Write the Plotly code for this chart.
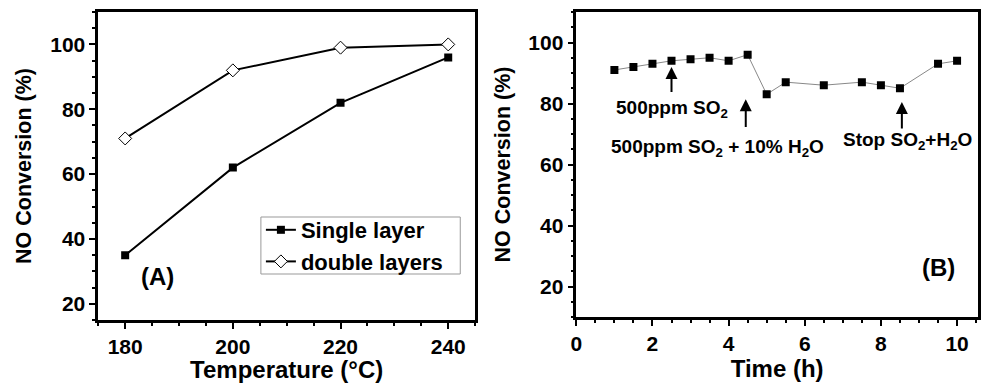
import plotly.graph_objects as go

# Panel A data
temperature = [180, 200, 220, 240]
single_layer = [35, 62, 82, 96]
double_layers = [71, 92, 99, 100]

# Panel B data
time_h = [1, 1.5, 2, 2.5, 3, 3.5, 4, 4.5, 5, 5.5, 6.5, 7.5, 8, 8.5, 9.5, 10]
conv_b = [91, 92, 93, 94, 94.5, 95, 94, 96, 83, 87, 86, 87, 86, 85, 93, 94]

FONT = "Liberation Sans, Arial, sans-serif"
W, H = 981, 383

fig = go.Figure()
fig.add_trace(go.Scatter(x=temperature, y=single_layer, name="Single layer",
                         mode="lines+markers", xaxis="x", yaxis="y",
                         line=dict(color="black", width=2),
                         marker=dict(symbol="square", size=8, color="black")))
fig.add_trace(go.Scatter(x=temperature, y=double_layers, name="double layers",
                         mode="lines+markers", xaxis="x", yaxis="y",
                         line=dict(color="black", width=2),
                         marker=dict(symbol="diamond", size=10, color="white",
                                     line=dict(color="black", width=1))))
fig.add_trace(go.Scatter(x=time_h, y=conv_b, mode="lines+markers", showlegend=False,
                         xaxis="x2", yaxis="y2",
                         line=dict(color="#888888", width=1),
                         marker=dict(symbol="square", size=8, color="black")))

tickfont = dict(family=FONT, size=21, color="black", weight="bold")
xtitlefont = dict(family=FONT, size=24, color="black", weight="bold")
ytitlefont = dict(family=FONT, size=21.5, color="black", weight="bold")
axcommon = dict(showline=True, linecolor="black", linewidth=2.5, mirror=True,
                ticks="outside", ticklen=6, tickwidth=2, tickcolor="black",
                showgrid=False, zeroline=False, tickfont=tickfont,
                minor=dict(ticks="outside", ticklen=3, tickwidth=2, tickcolor="black"))

fig.update_layout(
    width=W, height=H, margin=dict(l=0, r=0, t=0, b=0),
    plot_bgcolor="white", paper_bgcolor="white",
    xaxis=dict(domain=[93 / W, 473 / W], range=[175, 245], tickvals=[180, 200, 220, 240],
               anchor="y", title=dict(text="Temperature (°C)", font=xtitlefont, standoff=3),
               **axcommon),
    yaxis=dict(domain=[1 - 320 / H, 1 - 12 / H], range=[15, 110], tickvals=[20, 40, 60, 80, 100],
               anchor="x", title=dict(text="NO Conversion (%)", font=ytitlefont, standoff=13),
               **axcommon),
    xaxis2=dict(domain=[575 / W, 980 / W], range=[0, 10.55], tickvals=[0, 2, 4, 6, 8, 10],
                anchor="y2", title=dict(text="Time (h)", font=xtitlefont, standoff=3),
                **axcommon),
    yaxis2=dict(domain=[1 - 317 / H, 1 - 12 / H], range=[10, 110], tickvals=[20, 40, 60, 80, 100],
                anchor="x2", title=dict(text="NO Conversion (%)", font=ytitlefont, standoff=12),
                **axcommon),
    legend=dict(x=257 / W, y=1 - 209 / H, xanchor="left", yanchor="top",
                borderwidth=0, bgcolor="rgba(0,0,0,0)",
                font=dict(family=FONT, size=22, color="black", weight="bold"),
                tracegroupgap=0, itemwidth=30),
)

# legend frame
fig.add_shape(type="rect", xref="paper", yref="paper",
              x0=257 / W, x1=458 / W, y0=1 - 274 / H, y1=1 - 217 / H,
              line=dict(color="#999999", width=1), fillcolor="rgba(0,0,0,0)", layer="below")

annfont = dict(family=FONT, size=19, color="black", weight="bold")
anns = [
    dict(x=2.5, y=92, ax=2.5, ay=83.3, text=""),
    dict(x=4.45, y=81.4, ax=4.45, ay=71.8, text=""),
    dict(x=8.55, y=80.5, ax=8.55, ay=71.3, text=""),
]
for a in anns:
    fig.add_annotation(xref="x2", yref="y2", axref="x2", ayref="y2", showarrow=True,
                       arrowhead=2, arrowsize=1.2, arrowwidth=2, arrowcolor="black", **a)

fig.add_annotation(xref="x2", yref="y2", x=2.5, y=78.3, text="500ppm SO<sub>2</sub>",
                   showarrow=False, font=annfont)
fig.add_annotation(xref="x2", yref="y2", x=3.72, y=65.3,
                   text="500ppm SO<sub>2</sub> + 10% H<sub>2</sub>O", showarrow=False, font=annfont)
fig.add_annotation(xref="x2", yref="y2", x=8.69, y=67.7, text="Stop SO<sub>2</sub>+H<sub>2</sub>O",
                   showarrow=False, font=annfont)

fig.add_annotation(xref="x", yref="y", x=186, y=28.5, text="(A)", showarrow=False,
                   font=dict(family=FONT, size=24, color="black", weight="bold"))
fig.add_annotation(xref="x2", yref="y2", x=9.5, y=26.3, text="(B)", showarrow=False,
                   font=dict(family=FONT, size=24, color="black", weight="bold"))

fig.write_html("out.html")
